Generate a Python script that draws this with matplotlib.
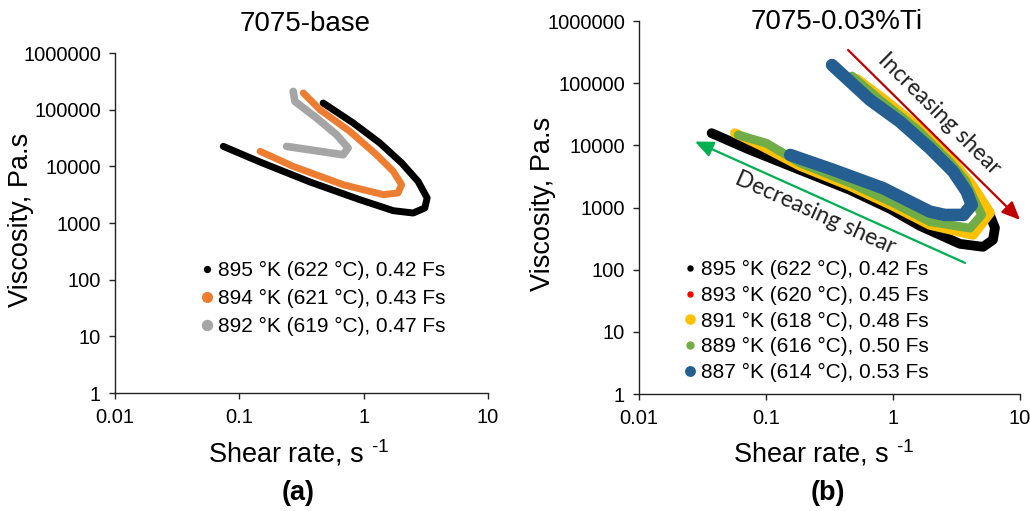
import matplotlib
matplotlib.use('Agg')
import matplotlib.pyplot as plt
from matplotlib.lines import Line2D

plt.rcParams['font.family'] = ['Liberation Sans', 'DejaVu Sans']
plt.rcParams['mathtext.fontset'] = 'custom'
plt.rcParams['mathtext.rm'] = 'Liberation Sans'
plt.rcParams['mathtext.default'] = 'regular'

W, H = 1030, 511

yTicks = [1, 10, 100, 1000, 10000, 100000, 1000000]
yTickLabels = ['1', '10', '100', '1000', '10000', '100000', '1000000']
xTicks = [0.01, 0.1, 1, 10]
xTickLabels = ['0.01', '0.1', '1', '10']

# (a) 7075-base : shear rate (1/s) and viscosity (Pa.s), increasing then decreasing shear
baseLabels = ['895 °K (622 °C), 0.42 Fs', '894 °K (621 °C), 0.43 Fs', '892 °K (619 °C), 0.47 Fs']
baseColors = ['#000000', '#ED7D31', '#A5A5A5']
base895Rate = [0.472, 0.824, 1.35, 2.02, 2.74, 3.24, 3.10, 2.50, 1.73, 0.931, 0.370, 0.147, 0.0743]
base895Visc = [131000, 58200, 25800, 11500, 5420, 2760, 1840, 1500, 1650, 2580, 5300, 11900, 22500]
base894Rate = [0.327, 0.445, 0.774, 1.27, 1.73, 2.02, 1.89, 1.44, 0.684, 0.271, 0.147]
base894Visc = [197000, 99800, 41400, 16000, 8150, 4740, 3390, 3160, 4740, 9980, 18400]
base892Rate = [0.271, 0.280, 0.418, 0.605, 0.750, 0.684, 0.445, 0.240]
base892Visc = [210000, 140000, 71300, 36200, 21100, 16000, 18400, 22500]

# (b) 7075-0.03%Ti
tiLabels = ['895 °K (622 °C), 0.42 Fs', '893 °K (620 °C), 0.45 Fs', '891 °K (618 °C), 0.48 Fs',
            '889 °K (616 °C), 0.50 Fs', '887 °K (614 °C), 0.53 Fs']
tiColors = ['#000000', '#FF0000', '#FFC000', '#70AD47', '#255E91']
ti895Rate = [0.521, 1.135, 2.56, 4.04, 5.6, 6.35, 6.12, 5.12, 3.37, 1.63, 0.95, 0.458, 0.185, 0.0748, 0.0373]
ti895Visc = [104500, 28600, 7550, 2310, 900, 470, 301, 233, 260, 506, 950, 1920, 4030, 8440, 15700]
ti893Rate = [0.51, 0.85, 1.65, 2.9, 4.1, 5.6, 4.2, 1.95, 1.0, 0.458, 0.185, 0.09, 0.058]
ti893Visc = [112000, 53700, 17700, 5400, 2400, 800, 380, 540, 1080, 2250, 4700, 10000, 15200]
ti891Rate = [0.521, 0.865, 1.69, 2.97, 4.19, 5.81, 4.27, 1.95, 1.0, 0.458, 0.185, 0.0897, 0.057]
ti891Visc = [117000, 53700, 17700, 5400, 2310, 818, 362, 525, 1060, 2220, 4670, 10100, 15700]
ti889Rate = [0.475, 0.791, 1.57, 2.81, 3.69, 4.99, 4.04, 1.95, 1.0, 0.458, 0.185, 0.101, 0.0603]
ti889Visc = [130600, 53700, 17700, 5400, 2780, 760, 465, 593, 1190, 2480, 5210, 10800, 14700]
ti887Rate = [0.331, 0.659, 1.135, 1.95, 2.98, 3.80, 4.17, 3.58, 2.56, 1.95, 0.839, 0.339, 0.155]
ti887Visc = [196000, 53700, 24000, 8980, 3780, 1800, 1100, 760, 760, 859, 2040, 4030, 7010]


def styleAxes(ax):
    ax.set_xscale('log')
    ax.set_yscale('log')
    ax.set_xlim(0.01, 10)
    ax.set_ylim(1, 1000000)
    ax.set_xticks(xTicks)
    ax.set_xticklabels(xTickLabels)
    ax.set_yticks(yTicks)
    ax.set_yticklabels(yTickLabels)
    ax.minorticks_off()
    ax.spines['top'].set_visible(False)
    ax.spines['right'].set_visible(False)
    for s in ['left', 'bottom']:
        ax.spines[s].set_linewidth(1.0)
        ax.spines[s].set_color('#222222')
    ax.tick_params(axis='both', direction='out', length=4, width=1.0, colors='#222222',
                   labelsize=14.5, labelcolor='black')
    ax.tick_params(axis='y', pad=6)
    ax.tick_params(axis='x', pad=7)


def drawCurve(ax, x, y, color, lw):
    ax.plot(x, y, color=color, lw=lw, solid_capstyle='round', solid_joinstyle='round')


fig = plt.figure(figsize=(W / 100, H / 100), dpi=100)
xLabel = 'Shear rate, s $^{\u20101}$'
arrowStyle = '-|>,head_length=0.5,head_width=0.22'

# ---- panel (a)
axA = fig.add_axes([115 / W, 1 - 393 / H, 373 / W, 340 / H])
styleAxes(axA)
drawCurve(axA, base895Rate, base895Visc, baseColors[0], 5.0)
drawCurve(axA, base894Rate, base894Visc, baseColors[1], 5.0)
drawCurve(axA, base892Rate, base892Visc, baseColors[2], 5.5)

handlesA = [Line2D([], [], ls='none', marker='o', color=c, ms=m)
            for c, m in zip(baseColors, [4.2, 7.0, 7.2])]
axA.legend(handlesA, baseLabels, loc='upper left', bbox_to_anchor=(201 / W, 1 - 261 / H),
           bbox_transform=fig.transFigure, frameon=False, fontsize=15, handlelength=0.6,
           handletextpad=0.2, borderpad=0, borderaxespad=0, labelspacing=0.43)

fig.text(305 / W, 1 - 24 / H, '7075-base', ha='center', va='center', fontsize=20)
fig.text(299 / W, 1 - 453 / H, xLabel, ha='center', va='center', fontsize=19.5)
fig.text(21 / W, 1 - 220 / H, 'Viscosity, Pa.s', ha='center', va='center', fontsize=19.5,
         rotation=90)
fig.text(298 / W, 1 - 493 / H, '(a)', ha='center', va='center', fontsize=19.5, fontweight='bold')

# ---- panel (b)
axB = fig.add_axes([639 / W, 1 - 394 / H, 381 / W, 373 / H])
styleAxes(axB)
drawCurve(axB, ti895Rate, ti895Visc, tiColors[0], 7.0)
drawCurve(axB, ti893Rate, ti893Visc, tiColors[1], 5.0)
drawCurve(axB, ti891Rate, ti891Visc, tiColors[2], 7.0)
drawCurve(axB, ti889Rate, ti889Visc, tiColors[3], 6.3)
drawCurve(axB, ti887Rate, ti887Visc, tiColors[4], 9.0)

handlesB = [Line2D([], [], ls='none', marker='o', color=c, ms=m)
            for c, m in zip(tiColors, [3.6, 3.6, 6.6, 5.0, 6.8])]
axB.legend(handlesB, tiLabels, loc='upper left', bbox_to_anchor=(684 / W, 1 - 260 / H),
           bbox_transform=fig.transFigure, frameon=False, fontsize=15, handlelength=0.6,
           handletextpad=0.2, borderpad=0, borderaxespad=0, labelspacing=0.32)

# shear direction arrows
axB.annotate('', xy=(10, 632), xytext=(0.443, 342000), annotation_clip=False,
             arrowprops=dict(arrowstyle=arrowStyle, color='#C00000', lw=1.6, mutation_scale=22,
                             shrinkA=0, shrinkB=0))
axB.annotate('', xy=(0.0276, 11500), xytext=(3.69, 128.5), annotation_clip=False,
             arrowprops=dict(arrowstyle=arrowStyle, color='#00B050', lw=1.6, mutation_scale=22,
                             shrinkA=0, shrinkB=0))
axB.text(2.30, 32000, 'Increasing shear', family=['Lato', 'DejaVu Sans'], fontsize=16.5,
         rotation=-44.7, rotation_mode='anchor', ha='center', va='center', color='#222222')
axB.text(0.243, 818, 'Decreasing shear', family=['Lato', 'DejaVu Sans'], fontsize=16.5,
         rotation=-24.1, rotation_mode='anchor', ha='center', va='center', color='#222222')

fig.text(837 / W, 1 - 22 / H, '7075-0.03%Ti', ha='center', va='center', fontsize=20)
fig.text(824 / W, 1 - 453 / H, xLabel, ha='center', va='center', fontsize=19.5)
fig.text(543 / W, 1 - 204 / H, 'Viscosity, Pa.s', ha='center', va='center', fontsize=19.5,
         rotation=90)
fig.text(828 / W, 1 - 493 / H, '(b)', ha='center', va='center', fontsize=19.5, fontweight='bold')

fig.savefig('out.png', dpi=100)
